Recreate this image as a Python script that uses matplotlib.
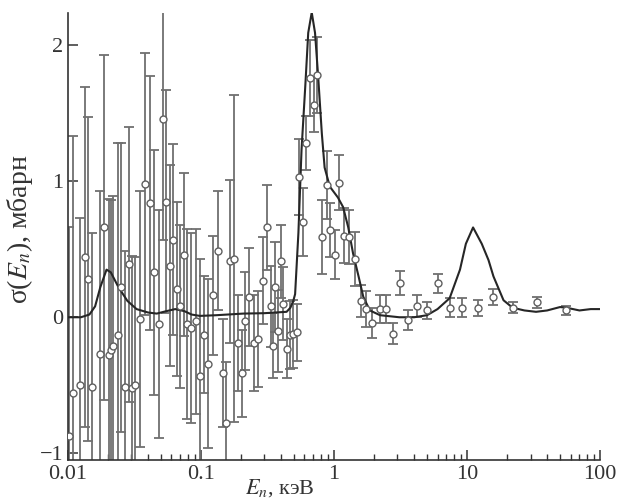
import matplotlib.pyplot as plt
import numpy as np

plt.rcParams["font.family"] = ["Liberation Serif", "DejaVu Serif"]
plt.rcParams["mathtext.fontset"] = "stix"

# measured points: energy (keV), cross section (mb), error (mb)
energy = [0.0101, 0.01085, 0.01237, 0.01335, 0.01413, 0.0151, 0.01748, 0.01855,
          0.02023, 0.0212, 0.0220, 0.0236, 0.0252, 0.0267, 0.0286, 0.0303, 0.0320,
          0.0351, 0.0377, 0.0412, 0.0443, 0.0480, 0.0517, 0.0549, 0.0583, 0.0618,
          0.0664, 0.0700, 0.0743, 0.079, 0.0846, 0.092, 0.0983, 0.106, 0.1133,
          0.1237, 0.1347, 0.1453, 0.1538, 0.1653, 0.177, 0.189, 0.2024, 0.2145,
          0.2303, 0.2504, 0.268, 0.292, 0.315, 0.334, 0.345, 0.36, 0.382, 0.398,
          0.415, 0.44, 0.466, 0.494, 0.53, 0.549, 0.58, 0.615, 0.66, 0.705, 0.75,
          0.81, 0.88, 0.932, 1.01, 1.09, 1.18, 1.29, 1.43, 1.59, 1.75, 1.93, 2.2,
          2.46, 2.77, 3.14, 3.6, 4.23, 5.0, 6.05, 7.4, 9.2, 12.1, 15.8, 22.3,
          33.3, 55.6]
sigma = [-0.87, -0.56, -0.50, 0.44, 0.28, -0.51, -0.27, 0.66,
         -0.28, -0.24, -0.21, -0.13, 0.22, -0.51, 0.39, -0.52, -0.50,
         -0.01, 0.98, 0.84, 0.33, -0.05, 1.46, 0.85, 0.38, 0.57,
         0.21, 0.08, 0.46, -0.05, -0.08, -0.03, -0.43, -0.13, -0.34,
         0.16, 0.49, -0.41, -0.78, 0.41, 0.43, -0.19, -0.41, -0.03,
         0.15, -0.19, -0.16, 0.27, 0.66, 0.08, -0.21, 0.22, -0.10, 0.41,
         0.10, -0.23, -0.13, -0.12, -0.11, 1.03, 0.70, 1.28, 1.76, 1.56, 1.78,
         0.59, 0.97, 0.64, 0.46, 0.99, 0.60, 0.59, 0.43, 0.12, 0.06, -0.04, 0.06,
         0.06, -0.12, 0.25, -0.02, 0.08, 0.05, 0.25, 0.07, 0.07, 0.07, 0.15, 0.07,
         0.11, 0.05]
error = [1.53, 1.89, 1.23, 1.25, 1.19, 1.13, 1.20, 1.27,
         1.15, 1.10, 1.10, 1.41, 1.06, 1.00, 1.01, 0.97, 0.94,
         0.94, 0.96, 0.93, 0.90, 0.84, 0.89, 0.82, 0.74, 0.70,
         0.64, 0.60, 0.60, 0.70, 0.70, 0.68, 0.86, 0.43, 0.62,
         0.44, 0.44, 0.40, 0.45, 0.60, 1.20, 0.35, 0.32, 0.36,
         0.36, 0.35, 0.35, 0.32, 0.31, 0.30, 0.24, 0.33, 0.30, 0.27,
         0.27, 0.22, 0.25, 0.25, 0.21, 0.28, 0.25, 0.20, 0.28, 0.20, 0.28,
         0.27, 0.25, 0.20, 0.18, 0.20, 0.20, 0.20, 0.20, 0.12, 0.13, 0.11, 0.10,
         0.10, 0.08, 0.09, 0.07, 0.08, 0.06, 0.07, 0.07, 0.07, 0.06, 0.06, 0.04,
         0.04, 0.03]

# calculated curve
curve_e = [0.01, 0.0125, 0.0145, 0.016, 0.0175, 0.0195, 0.021, 0.024, 0.028,
           0.0328, 0.04, 0.0465, 0.055, 0.064, 0.075, 0.085, 0.098, 0.13, 0.208,
           0.3, 0.44, 0.47, 0.494, 0.51, 0.54, 0.57, 0.61, 0.64, 0.68, 0.72, 0.76,
           0.81, 0.85, 0.93, 1.07, 1.17, 1.28, 1.39, 1.53, 1.66, 1.86, 2.22, 3.1,
           4.0, 5.0, 6.0, 7.4, 8.85, 9.8, 11.1, 12.9, 14.5, 15.8, 18.8, 22.0,
           27.0, 33.0, 40.0, 50.0, 56.0, 70.0, 85.0, 100.0]
curve_s = [0.0, 0.0, 0.02, 0.08, 0.22, 0.35, 0.33, 0.22, 0.12,
           0.06, 0.035, 0.027, 0.045, 0.06, 0.045, 0.02, 0.01, 0.015, 0.027,
           0.03, 0.04, 0.07, 0.12, 0.17, 0.62, 1.23, 1.72, 2.09, 2.24, 2.09, 1.77,
           1.35, 1.10, 0.96, 0.88, 0.81, 0.66, 0.47, 0.30, 0.15, 0.05, 0.015, 0.0,
           0.0, 0.015, 0.06, 0.14, 0.35, 0.54, 0.66, 0.54, 0.42, 0.30, 0.125, 0.07,
           0.05, 0.04, 0.05, 0.075, 0.07, 0.05, 0.06, 0.06]

fig = plt.figure(figsize=(6.35, 5.04), dpi=100)
ax = fig.add_axes([0.107, 0.087, 0.838, 0.887])

ax.errorbar(energy, sigma, yerr=error, fmt="none", ecolor="#707070",
            elinewidth=1.3, capsize=3.5, capthick=1.3, zorder=2)
ax.plot(curve_e, curve_s, color="#262626", lw=1.5, zorder=3)
ax.plot(energy, sigma, "o", ms=5, mfc="white", mec="#606060", mew=1.0, zorder=4)

ax.set_xscale("log")
ax.set_xlim(0.01, 100)
ax.set_ylim(-1.05, 2.235)
ax.set_yticks([-1, 0, 1, 2])
ax.set_xticks([0.01, 0.1, 1, 10, 100])
ax.set_xticklabels(["0.01", "0.1", "1", "10", "100"])

for s in ["top", "right"]:
    ax.spines[s].set_visible(False)
for s in ["left", "bottom"]:
    ax.spines[s].set_color("#333333")
    ax.spines[s].set_linewidth(1.2)

ax.tick_params(axis="both", which="major", direction="in", length=7, width=1.1,
               labelsize=16, colors="#333333")
ax.tick_params(axis="x", which="minor", direction="in", length=4, width=1.0,
               colors="#333333")
ax.tick_params(axis="y", which="minor", left=False)

ax.set_xlabel("$E_n$, кэВ", fontsize=16, color="#333333")
ax.set_ylabel("σ($E_n$), мбарн", fontsize=20, color="#333333")
ax.xaxis.set_label_coords(0.398, -0.038)
ax.yaxis.set_label_coords(-0.062, 0.517)

fig.savefig("out.png", dpi=100)
